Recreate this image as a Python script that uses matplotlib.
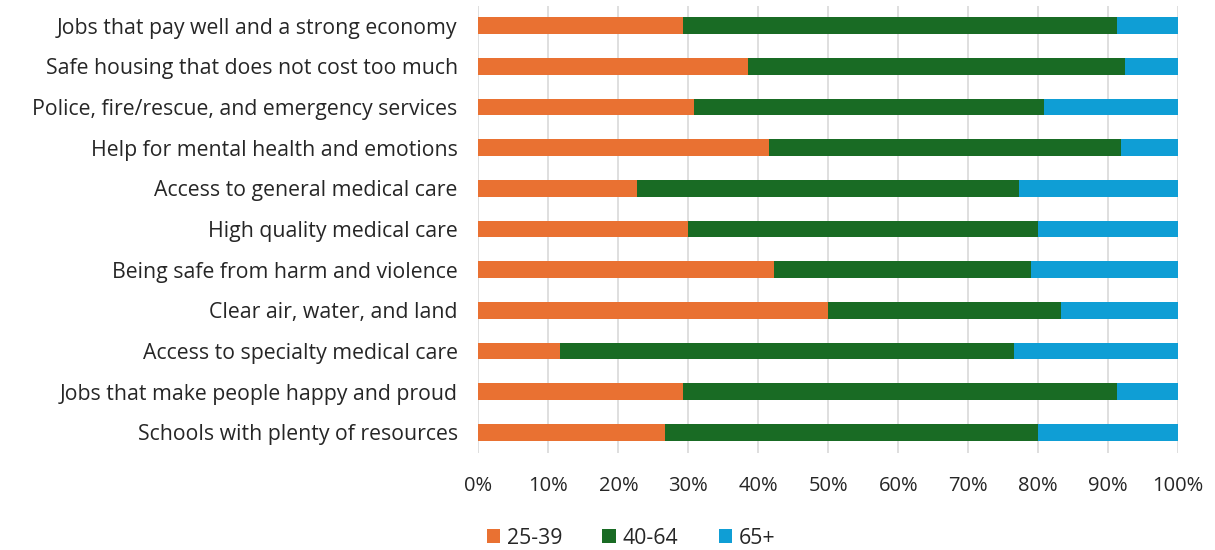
import numpy as np
import matplotlib.pyplot as plt
from matplotlib.ticker import PercentFormatter

# share of responses per age group, top row first
categories = [
    "Jobs that pay well and a strong economy",
    "Safe housing that does not cost too much",
    "Police, fire/rescue, and emergency services",
    "Help for mental health and emotions",
    "Access to general medical care",
    "High quality medical care",
    "Being safe from harm and violence",
    "Clear air, water, and land",
    "Access to specialty medical care",
    "Jobs that make people happy and proud",
    "Schools with plenty of resources",
]
age_25_39 = [29.3, 38.5, 30.8, 41.6, 22.7, 30.0, 42.2, 50.0, 11.7, 29.3, 26.7]
age_40_64 = [62.0, 53.9, 50.0, 50.2, 54.6, 50.0, 36.8, 33.3, 64.9, 62.0, 53.3]
age_65_up = [8.7, 7.6, 19.2, 8.2, 22.7, 20.0, 21.0, 16.7, 23.4, 8.7, 20.0]
groups = ["25-39", "40-64", "65+"]
colors = ["#E97132", "#196B24", "#0F9ED5"]

plt.rcParams['font.family'] = ['Open Sans', 'DejaVu Sans']
txt = '#262626'

fig = plt.figure(figsize=(12.15, 5.5), dpi=100)
ax = fig.add_axes([0.3938, 0.177, 0.5758, 0.813])

y = np.arange(len(categories))
left = np.zeros(len(categories))
for vals, name, col in zip([age_25_39, age_40_64, age_65_up], groups, colors):
    ax.barh(y, vals, left=left, height=0.41, color=col, label=name, zorder=3)
    left += np.array(vals)

ax.set_ylim(len(categories) - 0.5, -0.5)
ax.set_xlim(0, 100)
ax.set_yticks(y)
ax.set_yticklabels(categories, fontsize=15.3)
ax.set_xticks(np.arange(0, 101, 10))
ax.xaxis.set_major_formatter(PercentFormatter(decimals=0))
ax.tick_params(axis='both', length=0, labelcolor=txt)
ax.tick_params(axis='x', labelsize=14.5, pad=17)
ax.tick_params(axis='y', pad=15)
ax.grid(axis='x', color='#d9d9d9', linewidth=1.2, zorder=0)
for s in ax.spines.values():
    s.set_visible(False)

fig.legend(loc='center', bbox_to_anchor=(631 / 1215, 1 - 538 / 550), ncol=3,
           frameon=False, fontsize=15.3, handlelength=0.65, handleheight=0.65,
           handletextpad=0.3, columnspacing=1.9, labelcolor=txt)

fig.savefig('out.png', dpi=100)
